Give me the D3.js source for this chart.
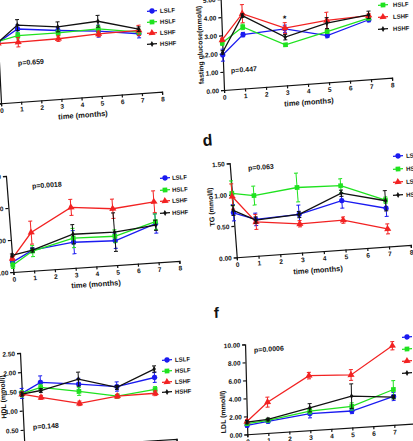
<!DOCTYPE html>
<html><head><meta charset="utf-8">
<script src="https://cdn.jsdelivr.net/npm/d3@7"></script>
<style>
body{margin:0;background:#fff}
svg{display:block}
text{font-family:"Liberation Sans",Arial,sans-serif;font-weight:bold;fill:#111}
</style>
</head><body>
<svg id="chart" width="413" height="441"></svg>
<script>
const months = [0, 1, 3, 5, 7];
const groups = ["LSLF", "HSLF", "LSHF", "HSHF"];
const xTicks = [0, 1, 2, 3, 4, 5, 6, 7, 8];

// a: body weight (axis labels outside the crop)
const weightMean = [[22.1,26.5,24.9,23.6,21.6],[22.5,24.1,24.0,24.4,22.2],[21.7,21.7,21.9,22.6,22.8],[22.1,27.9,26.2,27.2,23.3]];
const weightErr  = [[0.5,1.5,1.2,2.2,1.5],[0.5,1.2,1.0,1.2,1.0],[0.5,1.7,1.0,1.0,1.9],[0.5,2.0,1.8,2.1,0.8]];
const weightTicks = [0, 10, 20, 30, 40];
// b: fasting glucose
const glucoseMean = [[1.92,2.96,3.11,2.57,3.27],[2.60,3.38,2.23,2.79,3.36],[2.75,4.11,3.15,3.40,3.50],[2.07,4.00,2.65,3.25,3.54]];
const glucoseErr  = [[0.33,0.12,0.20,0.12,0.12],[0.15,0.15,0.08,0.10,0.10],[0.10,0.50,0.30,0.45,0.10],[0.10,0.10,0.15,0.30,0.20]];
const glucoseTicks = [0, 1, 2, 3, 4, 5];
// c: TC
const tcMean = [[1.55,3.20,4.00,3.80,6.05],[1.05,3.05,4.65,4.50,6.35],[2.10,5.95,9.45,8.80,9.45],[2.60,3.20,5.25,5.15,5.80]];
const tcErr  = [[0.5,0.4,1.8,1.2,1.5],[0.5,0.85,1.5,1.0,1.2],[0.3,1.8,1.25,1.5,1.7],[0.25,0.3,1.5,3.0,0.8]];
const tcTicks = [0, 5, 10, 15];
// d: TG
const tgMean = [[0.71,0.58,0.61,0.78,0.61],[1.02,0.96,1.04,1.02,0.74],[0.97,0.54,0.46,0.47,0.28],[0.75,0.57,0.61,0.90,0.73]];
const tgErr  = [[0.13,0.10,0.15,0.12,0.13],[0.20,0.15,0.23,0.11,0.05],[0.20,0.12,0.05,0.05,0.08],[0.08,0.05,0.05,0.05,0.16]];
const tgTicks = [0, 0.5, 1.0, 1.5];
// e: HDL
const hdlMean = [[1.45,1.70,1.59,1.46,1.63],[1.44,1.57,1.40,1.21,1.32],[1.43,1.31,1.09,1.21,1.22],[1.43,1.49,1.72,1.44,1.85]];
const hdlErr  = [[0.13,0.17,0.15,0.12,0.13],[0.08,0.08,0.10,0.05,0.07],[0.05,0.05,0.06,0.05,0.06],[0.05,0.05,0.18,0.05,0.08]];
const hdlTicks = [0, 0.5, 1.0, 1.5, 2.0, 2.5];
// f: LDL
const ldlMean = [[0.99,1.29,1.84,1.84,3.16],[1.18,1.40,2.13,2.35,3.93],[1.43,3.42,6.07,5.85,8.79],[1.36,1.50,2.50,3.49,3.09]];
const ldlErr  = [[0.2,0.2,0.45,0.3,0.45],[0.2,0.15,0.3,0.4,1.0],[0.2,0.55,0.35,0.6,0.45],[0.2,0.15,0.45,1.36,0.2]];
const ldlTicks = [0, 2, 4, 6, 8, 10];

const colors = ["#1a1af0", "#1fe21f", "#f22222", "#111111"];
const symbols = [d3.symbolCircle, d3.symbolSquare, d3.symbolTriangle, d3.symbolDiamond];
const symSizes = [22, 22, 22, 10];

const svg = d3.select("#chart");

function drawPanel(cfg) {
  const [e, f] = cfg.origin;
  const b = -cfg.tx, c = cfg.ty;
  const g = svg.append("g").attr("transform", `matrix(1,${b},${c},1,${e},${f})`);
  const det = 1 - b * c;
  const local = (xs, ys) => [((xs - e) - c * (ys - f)) / det, ((ys - f) - b * (xs - e)) / det];

  const x = d3.scaleLinear().domain([0, 8]).range([0, cfg.W]);
  const y = d3.scaleLinear().domain([0, cfg.ymax]).range([0, -cfg.H]);

  const xa = g.append("g").call(d3.axisBottom(x).tickValues(xTicks).tickSize(3).tickPadding(2).tickFormat(d3.format("d")));
  const ya = g.append("g").call(d3.axisLeft(y).tickValues(cfg.yticks).tickSize(3).tickPadding(2).tickFormat(d3.format(".2f")));
  [xa, ya].forEach(a => {
    a.selectAll("path,line").attr("stroke", "#111").attr("stroke-width", 1.2);
    a.selectAll("text").attr("font-size", 6.5).attr("font-family", '"Liberation Sans",Arial,sans-serif').attr("font-weight", "bold").attr("fill", "#111");
  });

  cfg.means.forEach((ser, i) => {
    const pts = months.map((m, j) => ({ m, v: ser[j], e: cfg.errs[i][j] }));
    const col = colors[i];
    const eb = g.append("g").attr("stroke", col).attr("stroke-width", 1);
    pts.forEach(p => {
      eb.append("line").attr("x1", x(p.m)).attr("x2", x(p.m)).attr("y1", y(p.v - p.e)).attr("y2", y(p.v + p.e));
      [p.v - p.e, p.v + p.e].forEach(v => eb.append("line").attr("x1", x(p.m) - 2).attr("x2", x(p.m) + 2).attr("y1", y(v)).attr("y2", y(v)));
    });
    g.append("path").datum(pts).attr("fill", "none").attr("stroke", col).attr("stroke-width", 1.3)
      .attr("d", d3.line().x(p => x(p.m)).y(p => y(p.v)));
    g.append("g").selectAll("path").data(pts).join("path")
      .attr("transform", p => `translate(${x(p.m)},${y(p.v)})`)
      .attr("d", d3.symbol().type(symbols[i]).size(symSizes[i])).attr("fill", col);
  });

  // legend
  cfg.legendY.forEach((ys, i) => {
    const [lx, ly] = local(cfg.legendX, ys);
    g.append("line").attr("x1", lx - 5).attr("x2", lx + 5).attr("y1", ly).attr("y2", ly).attr("stroke", colors[i]).attr("stroke-width", 1.3);
    g.append("path").attr("transform", `translate(${lx},${ly})`).attr("d", d3.symbol().type(symbols[i]).size(symSizes[i])).attr("fill", colors[i]);
    const [tx, ty] = local(cfg.legendText, ys);
    g.append("text").attr("x", tx).attr("y", ty).attr("dy", "0.35em").attr("font-size", 6).text(groups[i]);
  });

  // p value
  const [px, py] = local(cfg.p[0], cfg.p[1]);
  g.append("text").attr("x", px).attr("y", py).attr("dy", "0.35em").attr("font-size", 7).text(cfg.pText);

  if (cfg.xTitle) {
    const [qx, qy] = local(cfg.xTitle[0], cfg.xTitle[1]);
    g.append("text").attr("x", qx).attr("y", qy).attr("dy", "0.35em").attr("text-anchor", "middle").attr("font-size", 7.5).text("time (months)");
  }
  if (cfg.yTitle) {
    const [rx, ry] = local(cfg.yTitle[0], cfg.yTitle[1]);
    g.append("text").attr("transform", `translate(${rx},${ry}) rotate(-90)`).attr("dy", "0.35em").attr("text-anchor", "middle").attr("font-size", 7).text(cfg.yTitleText);
  }
  if (cfg.label) {
    const [lx, ly] = local(cfg.label[0], cfg.label[1]);
    g.append("text").attr("x", lx).attr("y", ly).attr("font-size", cfg.label[2]).text(cfg.labelText);
  }
  if (cfg.star) {
    const j = months.indexOf(cfg.star);
    const top = d3.max(cfg.means, (s, i) => s[j] + cfg.errs[i][j]);
    g.append("text").attr("x", x(cfg.star)).attr("y", y(top) - 1).attr("text-anchor", "middle").attr("font-size", 9).text("*");
  }
}

drawPanel({ origin: [1, 103.3], W: 161, H: 110, tx: 0.072, ty: 0.05, ymax: 40, yticks: weightTicks,
  means: weightMean, errs: weightErr, legendX: 152, legendText: 160, legendY: [11, 22, 33, 44],
  p: [18, 63], pText: "p=0.659", xTitle: [83, 115] });

drawPanel({ origin: [224, 90], W: 168, H: 91, tx: 0.073, ty: 0.037, ymax: 5, yticks: glucoseTicks,
  means: glucoseMean, errs: glucoseErr, legendX: 383, legendText: 393, legendY: [-7, 5, 17, 29],
  p: [231, 70.5], pText: "p=0.447", xTitle: [309, 102], yTitle: [200, 45], yTitleText: "fasting glucose(mmol/l)", star: 3 });

drawPanel({ origin: [13.3, 272], W: 166, H: 96, tx: 0.067, ty: 0.077, ymax: 15, yticks: tcTicks,
  means: tcMean, errs: tcErr, legendX: 165, legendText: 172, legendY: [178, 190, 201, 213],
  p: [32, 186], pText: "p=0.0018", xTitle: [96, 284] });

drawPanel({ origin: [236.7, 257.3], W: 174, H: 94, tx: 0.071, ty: 0.075, ymax: 1.5, yticks: tgTicks,
  means: tgMean, errs: tgErr, legendX: 398, legendText: 406, legendY: [156, 169, 182, 195],
  p: [248, 168], pText: "p=0.063", xTitle: [318, 270], yTitle: [211, 207], yTitleText: "TG (mmol/l)",
  label: [203, 146, 16], labelText: "d" });

drawPanel({ origin: [24.5, 449], W: 152, H: 96, tx: 0.067, ty: 0.047, ymax: 2.5, yticks: hdlTicks,
  means: hdlMean, errs: hdlErr, legendX: 167, legendText: 175, legendY: [360, 371, 382, 392],
  p: [33, 427], pText: "p=0.148", yTitle: [3, 397], yTitleText: "HDL (mmol/l)" });

drawPanel({ origin: [247.3, 434.3], W: 168, H: 90, tx: 0.064, ty: 0.025, ymax: 10, yticks: ldlTicks,
  means: ldlMean, errs: ldlErr, legendX: 407, legendText: 416, legendY: [337, 349, 361, 373],
  p: [254, 350], pText: "p=0.0006", yTitle: [223, 412], yTitleText: "LDL (mmol/l)",
  label: [214, 318, 15], labelText: "f" });

// The reference is a crop: texts lying wholly outside the visible area are not part of it.
const box = document.getElementById("chart").getBoundingClientRect();
svg.selectAll("text").each(function () {
  const r = this.getBoundingClientRect();
  if (r.right <= box.left || r.left >= box.right || r.bottom <= box.top || r.top >= box.bottom) this.remove();
});
</script>
</body></html>
